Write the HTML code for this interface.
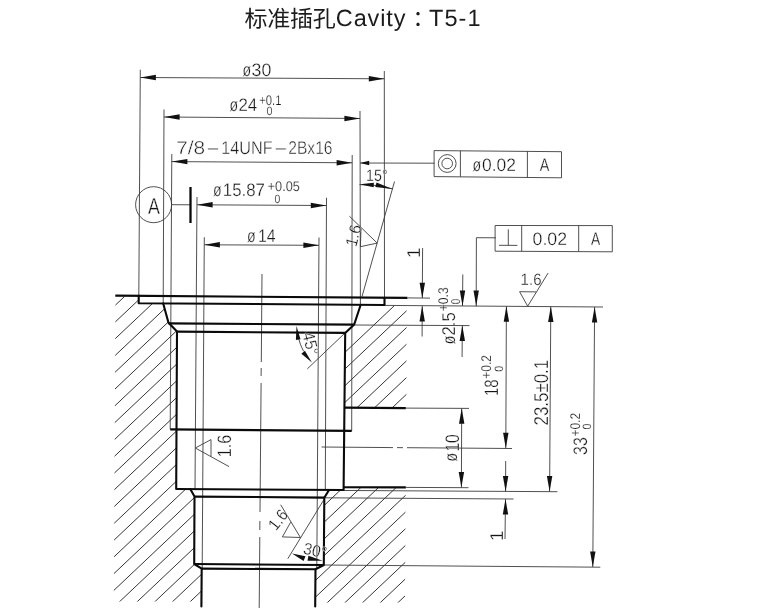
<!DOCTYPE html>
<html lang="zh"><head><meta charset="utf-8"><title>标准插孔Cavity：T5-1</title>
<style>
html,body{margin:0;padding:0;background:#fff;}
body{width:758px;height:611px;overflow:hidden;}
svg{display:block;}
text{font-family:"Liberation Sans","Noto Sans CJK SC",sans-serif;text-rendering:geometricPrecision;}
svg{will-change:transform;opacity:0.999;}
</style></head><body>
<svg width="758" height="611" viewBox="0 0 758 611">
<rect width="758" height="611" fill="#fff"/>
<defs><clipPath id="cl"><polygon points="115.5,296.5 138.7,296.5 138.7,303.2 163.2,303.5 168.5,322.8 177.0,331.5 176.2,489.0 190.4,489.2 194.5,496.6 194.2,564.0 201.7,568.6 201.5,601.5 113.8,601.5"/></clipPath><clipPath id="cr"><polygon points="384.5,305.6 406.6,305.8 406.3,407.8 344.8,407.6 345.2,332.9 354.2,324.5 360.6,305.2"/><polygon points="343.6,487.4 405.6,487.5 405.0,602.5 315.3,602.5 315.5,569.3 323.8,565.0 324.3,497.8 329.0,490.0 343.6,490.0"/></clipPath></defs>
<g clip-path="url(#cl)">
<line x1="105.9" y1="297.5" x2="235.9" y2="174.6" stroke="#2a2a2a" stroke-width="0.95"/>
<line x1="105.9" y1="314.1" x2="235.9" y2="191.3" stroke="#2a2a2a" stroke-width="0.95"/>
<line x1="105.9" y1="330.8" x2="235.9" y2="208.0" stroke="#2a2a2a" stroke-width="0.95"/>
<line x1="105.9" y1="347.5" x2="235.9" y2="224.7" stroke="#2a2a2a" stroke-width="0.95"/>
<line x1="105.9" y1="364.2" x2="235.9" y2="241.4" stroke="#2a2a2a" stroke-width="0.95"/>
<line x1="105.9" y1="380.9" x2="235.9" y2="258.1" stroke="#2a2a2a" stroke-width="0.95"/>
<line x1="105.9" y1="397.6" x2="235.9" y2="274.8" stroke="#2a2a2a" stroke-width="0.95"/>
<line x1="105.9" y1="414.3" x2="235.9" y2="291.4" stroke="#2a2a2a" stroke-width="0.95"/>
<line x1="105.9" y1="431.0" x2="235.9" y2="308.1" stroke="#2a2a2a" stroke-width="0.95"/>
<line x1="105.9" y1="447.7" x2="235.9" y2="324.8" stroke="#2a2a2a" stroke-width="0.95"/>
<line x1="105.9" y1="464.4" x2="235.9" y2="341.5" stroke="#2a2a2a" stroke-width="0.95"/>
<line x1="105.9" y1="481.1" x2="235.9" y2="358.2" stroke="#2a2a2a" stroke-width="0.95"/>
<line x1="105.9" y1="497.7" x2="235.9" y2="374.9" stroke="#2a2a2a" stroke-width="0.95"/>
<line x1="105.9" y1="514.4" x2="235.9" y2="391.6" stroke="#2a2a2a" stroke-width="0.95"/>
<line x1="105.9" y1="531.1" x2="235.9" y2="408.3" stroke="#2a2a2a" stroke-width="0.95"/>
<line x1="105.9" y1="547.8" x2="235.9" y2="425.0" stroke="#2a2a2a" stroke-width="0.95"/>
<line x1="105.9" y1="564.5" x2="235.9" y2="441.6" stroke="#2a2a2a" stroke-width="0.95"/>
<line x1="105.9" y1="581.2" x2="235.9" y2="458.3" stroke="#2a2a2a" stroke-width="0.95"/>
<line x1="105.9" y1="597.9" x2="235.9" y2="475.0" stroke="#2a2a2a" stroke-width="0.95"/>
<line x1="105.9" y1="614.6" x2="235.9" y2="491.7" stroke="#2a2a2a" stroke-width="0.95"/>
<line x1="105.9" y1="631.3" x2="235.9" y2="508.4" stroke="#2a2a2a" stroke-width="0.95"/>
<line x1="105.9" y1="648.0" x2="235.9" y2="525.1" stroke="#2a2a2a" stroke-width="0.95"/>
<line x1="105.9" y1="664.6" x2="235.9" y2="541.8" stroke="#2a2a2a" stroke-width="0.95"/>
<line x1="105.9" y1="681.3" x2="235.9" y2="558.5" stroke="#2a2a2a" stroke-width="0.95"/>
<line x1="105.9" y1="698.0" x2="235.9" y2="575.2" stroke="#2a2a2a" stroke-width="0.95"/>
<line x1="105.9" y1="714.7" x2="235.9" y2="591.9" stroke="#2a2a2a" stroke-width="0.95"/>
<line x1="105.9" y1="731.4" x2="235.9" y2="608.6" stroke="#2a2a2a" stroke-width="0.95"/>
<line x1="105.9" y1="748.1" x2="235.9" y2="625.2" stroke="#2a2a2a" stroke-width="0.95"/>
<line x1="105.9" y1="764.8" x2="235.9" y2="641.9" stroke="#2a2a2a" stroke-width="0.95"/>
<line x1="105.9" y1="781.5" x2="235.9" y2="658.6" stroke="#2a2a2a" stroke-width="0.95"/>
<line x1="105.9" y1="798.2" x2="235.9" y2="675.3" stroke="#2a2a2a" stroke-width="0.95"/>
</g>
<g clip-path="url(#cr)">
<line x1="411.0" y1="289.9" x2="296.0" y2="398.6" stroke="#2a2a2a" stroke-width="0.95"/>
<line x1="411.0" y1="306.6" x2="296.0" y2="415.2" stroke="#2a2a2a" stroke-width="0.95"/>
<line x1="411.0" y1="323.3" x2="296.0" y2="431.9" stroke="#2a2a2a" stroke-width="0.95"/>
<line x1="411.0" y1="340.0" x2="296.0" y2="448.6" stroke="#2a2a2a" stroke-width="0.95"/>
<line x1="411.0" y1="356.6" x2="296.0" y2="465.3" stroke="#2a2a2a" stroke-width="0.95"/>
<line x1="411.0" y1="373.3" x2="296.0" y2="482.0" stroke="#2a2a2a" stroke-width="0.95"/>
<line x1="411.0" y1="390.0" x2="296.0" y2="498.7" stroke="#2a2a2a" stroke-width="0.95"/>
<line x1="411.0" y1="406.7" x2="296.0" y2="515.4" stroke="#2a2a2a" stroke-width="0.95"/>
<line x1="411.0" y1="423.4" x2="296.0" y2="532.1" stroke="#2a2a2a" stroke-width="0.95"/>
<line x1="411.0" y1="440.1" x2="296.0" y2="548.8" stroke="#2a2a2a" stroke-width="0.95"/>
<line x1="411.0" y1="456.8" x2="296.0" y2="565.5" stroke="#2a2a2a" stroke-width="0.95"/>
<line x1="411.0" y1="473.5" x2="296.0" y2="582.2" stroke="#2a2a2a" stroke-width="0.95"/>
<line x1="411.0" y1="490.2" x2="296.0" y2="598.8" stroke="#2a2a2a" stroke-width="0.95"/>
<line x1="411.0" y1="506.9" x2="296.0" y2="615.5" stroke="#2a2a2a" stroke-width="0.95"/>
<line x1="411.0" y1="523.5" x2="296.0" y2="632.2" stroke="#2a2a2a" stroke-width="0.95"/>
<line x1="411.0" y1="540.2" x2="296.0" y2="648.9" stroke="#2a2a2a" stroke-width="0.95"/>
<line x1="411.0" y1="556.9" x2="296.0" y2="665.6" stroke="#2a2a2a" stroke-width="0.95"/>
<line x1="411.0" y1="573.6" x2="296.0" y2="682.3" stroke="#2a2a2a" stroke-width="0.95"/>
<line x1="411.0" y1="590.3" x2="296.0" y2="699.0" stroke="#2a2a2a" stroke-width="0.95"/>
<line x1="411.0" y1="607.0" x2="296.0" y2="715.7" stroke="#2a2a2a" stroke-width="0.95"/>
<line x1="411.0" y1="623.7" x2="296.0" y2="732.4" stroke="#2a2a2a" stroke-width="0.95"/>
<line x1="411.0" y1="640.4" x2="296.0" y2="749.0" stroke="#2a2a2a" stroke-width="0.95"/>
<line x1="411.0" y1="657.1" x2="296.0" y2="765.7" stroke="#2a2a2a" stroke-width="0.95"/>
<line x1="411.0" y1="673.8" x2="296.0" y2="782.4" stroke="#2a2a2a" stroke-width="0.95"/>
<line x1="411.0" y1="690.4" x2="296.0" y2="799.1" stroke="#2a2a2a" stroke-width="0.95"/>
<line x1="411.0" y1="707.1" x2="296.0" y2="815.8" stroke="#2a2a2a" stroke-width="0.95"/>
<line x1="411.0" y1="723.8" x2="296.0" y2="832.5" stroke="#2a2a2a" stroke-width="0.95"/>
<line x1="411.0" y1="740.5" x2="296.0" y2="849.2" stroke="#2a2a2a" stroke-width="0.95"/>
<line x1="411.0" y1="757.2" x2="296.0" y2="865.9" stroke="#2a2a2a" stroke-width="0.95"/>
<line x1="411.0" y1="773.9" x2="296.0" y2="882.6" stroke="#2a2a2a" stroke-width="0.95"/>
<line x1="411.0" y1="790.6" x2="296.0" y2="899.3" stroke="#2a2a2a" stroke-width="0.95"/>
<line x1="411.0" y1="807.3" x2="296.0" y2="916.0" stroke="#2a2a2a" stroke-width="0.95"/>
<line x1="411.0" y1="824.0" x2="296.0" y2="932.6" stroke="#2a2a2a" stroke-width="0.95"/>
</g>
<line x1="140.3" y1="69.7" x2="138.8" y2="296.0" stroke="#3c3c3c" stroke-width="0.9"/>
<line x1="384.3" y1="71.0" x2="384.5" y2="297.0" stroke="#3c3c3c" stroke-width="0.9"/>
<line x1="164.0" y1="109.5" x2="163.2" y2="303.5" stroke="#3c3c3c" stroke-width="0.9"/>
<line x1="360.0" y1="111.0" x2="360.4" y2="305.0" stroke="#3c3c3c" stroke-width="0.9"/>
<line x1="171.8" y1="154.0" x2="170.2" y2="429.4" stroke="#3c3c3c" stroke-width="0.9"/>
<line x1="352.2" y1="155.0" x2="351.7" y2="430.9" stroke="#3c3c3c" stroke-width="0.9"/>
<line x1="197.0" y1="197.0" x2="195.0" y2="489.0" stroke="#3c3c3c" stroke-width="0.9"/>
<line x1="326.5" y1="197.7" x2="325.3" y2="490.0" stroke="#3c3c3c" stroke-width="0.9"/>
<line x1="204.3" y1="237.2" x2="202.2" y2="568.6" stroke="#3c3c3c" stroke-width="0.9"/>
<line x1="319.0" y1="237.5" x2="316.8" y2="569.0" stroke="#3c3c3c" stroke-width="0.9"/>
<line x1="140.3" y1="77.5" x2="384.4" y2="78.8" stroke="#3c3c3c" stroke-width="0.9"/>
<polygon points="140.4,77.5 155.9,74.8 155.9,80.2" fill="#111"/>
<polygon points="384.3,78.8 368.8,81.5 368.8,76.1" fill="#111"/>
<line x1="164.0" y1="117.0" x2="360.0" y2="118.5" stroke="#3c3c3c" stroke-width="0.9"/>
<polygon points="164.1,117.0 179.6,114.3 179.6,119.7" fill="#111"/>
<polygon points="359.9,118.5 344.4,121.2 344.4,115.8" fill="#111"/>
<line x1="171.8" y1="161.6" x2="352.2" y2="162.8" stroke="#3c3c3c" stroke-width="0.9"/>
<polygon points="171.9,161.6 187.4,158.9 187.4,164.3" fill="#111"/>
<polygon points="352.1,162.8 336.6,165.5 336.6,160.1" fill="#111"/>
<line x1="360.0" y1="163.0" x2="434.5" y2="163.2" stroke="#3c3c3c" stroke-width="0.9"/>
<polygon points="360.2,163.0 369.2,160.8 369.2,165.2" fill="#111"/>
<line x1="197.0" y1="204.8" x2="326.4" y2="205.5" stroke="#3c3c3c" stroke-width="0.9"/>
<polygon points="197.1,204.8 212.6,202.1 212.6,207.5" fill="#111"/>
<polygon points="326.3,205.5 310.8,208.2 310.8,202.8" fill="#111"/>
<line x1="204.3" y1="244.8" x2="319.0" y2="245.3" stroke="#3c3c3c" stroke-width="0.9"/>
<polygon points="204.4,244.8 219.9,242.1 219.9,247.5" fill="#111"/>
<polygon points="318.9,245.3 303.4,248.0 303.4,242.6" fill="#111"/>
<circle cx="153.6" cy="204.7" r="18" fill="none" stroke="#3c3c3c" stroke-width="0.9"/>
<line x1="171.6" y1="204.7" x2="190.4" y2="204.8" stroke="#3c3c3c" stroke-width="0.9"/>
<line x1="190.5" y1="187.0" x2="190.5" y2="223.0" stroke="#0a0a0a" stroke-width="2.3"/>
<line x1="262.0" y1="274.0" x2="261.3" y2="362.0" stroke="#3c3c3c" stroke-width="0.9"/>
<line x1="261.2" y1="368.0" x2="261.1" y2="376.0" stroke="#3c3c3c" stroke-width="0.9"/>
<line x1="261.1" y1="383.0" x2="260.0" y2="512.0" stroke="#3c3c3c" stroke-width="0.9"/>
<line x1="259.9" y1="521.0" x2="259.8" y2="530.0" stroke="#3c3c3c" stroke-width="0.9"/>
<line x1="259.8" y1="537.0" x2="259.2" y2="608.0" stroke="#3c3c3c" stroke-width="0.9"/>
<line x1="394.5" y1="181.5" x2="362.0" y2="296.6" stroke="#3c3c3c" stroke-width="0.9"/>
<path d="M359.5,184.6 A112.0,112.0 0 0 1 392.9,188.9" fill="none" stroke="#3c3c3c" stroke-width="0.9"/>
<polygon points="359.8,184.3 373.9,182.7 373.7,187.3" fill="#111"/>
<polygon points="392.4,188.9 375.3,187.1 376.5,182.5" fill="#111"/>
<polyline points="349.7,216.5 377.2,243.1 360.4,246.7 361.0,229.0" fill="none" stroke="#3c3c3c" stroke-width="0.9" stroke-linejoin="round" stroke-linecap="round"/>
<line x1="407.4" y1="297.9" x2="430.0" y2="298.1" stroke="#3c3c3c" stroke-width="0.9"/>
<line x1="384.5" y1="305.4" x2="603.0" y2="307.0" stroke="#3c3c3c" stroke-width="0.9"/>
<line x1="354.5" y1="325.0" x2="469.5" y2="325.6" stroke="#3c3c3c" stroke-width="0.9"/>
<line x1="405.8" y1="408.1" x2="469.0" y2="408.4" stroke="#3c3c3c" stroke-width="0.9"/>
<line x1="405.8" y1="487.4" x2="468.5" y2="487.7" stroke="#3c3c3c" stroke-width="0.9"/>
<line x1="321.6" y1="447.0" x2="393.0" y2="447.6" stroke="#3c3c3c" stroke-width="0.9"/>
<line x1="397.0" y1="447.6" x2="403.0" y2="447.7" stroke="#3c3c3c" stroke-width="0.9"/>
<line x1="407.0" y1="447.7" x2="512.0" y2="448.5" stroke="#3c3c3c" stroke-width="0.9"/>
<line x1="330.0" y1="490.4" x2="557.4" y2="491.7" stroke="#3c3c3c" stroke-width="0.9"/>
<line x1="324.3" y1="497.8" x2="513.5" y2="499.0" stroke="#3c3c3c" stroke-width="0.9"/>
<line x1="323.8" y1="565.0" x2="600.3" y2="567.2" stroke="#3c3c3c" stroke-width="0.9"/>
<line x1="422.6" y1="248.0" x2="422.3" y2="298.0" stroke="#3c3c3c" stroke-width="0.9"/>
<polygon points="422.3,298.2 419.6,282.7 425.0,282.7" fill="#111"/>
<line x1="422.2" y1="306.0" x2="422.1" y2="336.5" stroke="#3c3c3c" stroke-width="0.9"/>
<polygon points="422.2,305.9 424.9,321.4 419.5,321.4" fill="#111"/>
<line x1="462.8" y1="274.5" x2="462.5" y2="305.9" stroke="#3c3c3c" stroke-width="0.9"/>
<polygon points="462.5,305.9 459.8,290.4 465.2,290.4" fill="#111"/>
<line x1="462.3" y1="325.5" x2="462.1" y2="357.0" stroke="#3c3c3c" stroke-width="0.9"/>
<polygon points="462.3,325.6 465.0,341.1 459.6,341.1" fill="#111"/>
<polyline points="495.5,237.8 476.4,237.7 476.2,306.0" fill="none" stroke="#3c3c3c" stroke-width="0.9" stroke-linejoin="round" stroke-linecap="round"/>
<polygon points="476.2,306.0 473.5,290.5 478.9,290.5" fill="#111"/>
<line x1="461.7" y1="408.2" x2="461.4" y2="487.5" stroke="#3c3c3c" stroke-width="0.9"/>
<polygon points="461.7,408.3 464.4,423.8 459.0,423.8" fill="#111"/>
<polygon points="461.4,487.5 458.7,472.0 464.1,472.0" fill="#111"/>
<line x1="506.4" y1="306.3" x2="505.8" y2="448.3" stroke="#3c3c3c" stroke-width="0.9"/>
<polygon points="506.4,306.3 509.1,321.8 503.7,321.8" fill="#111"/>
<polygon points="505.8,448.2 503.1,432.7 508.5,432.7" fill="#111"/>
<line x1="505.7" y1="461.0" x2="505.6" y2="491.5" stroke="#3c3c3c" stroke-width="0.9"/>
<polygon points="505.6,491.5 502.9,476.0 508.3,476.0" fill="#111"/>
<line x1="505.5" y1="499.0" x2="505.0" y2="539.0" stroke="#3c3c3c" stroke-width="0.9"/>
<polygon points="505.5,499.0 508.2,514.5 502.8,514.5" fill="#111"/>
<line x1="550.8" y1="306.6" x2="549.6" y2="491.7" stroke="#3c3c3c" stroke-width="0.9"/>
<polygon points="550.8,306.6 553.5,322.1 548.1,322.1" fill="#111"/>
<polygon points="549.6,491.6 546.9,476.1 552.3,476.1" fill="#111"/>
<line x1="594.6" y1="307.0" x2="592.8" y2="567.0" stroke="#3c3c3c" stroke-width="0.9"/>
<polygon points="594.6,307.0 597.3,322.5 591.9,322.5" fill="#111"/>
<polygon points="592.8,567.1 590.1,551.6 595.5,551.6" fill="#111"/>
<polyline points="547.9,273.4 527.7,306.2 519.6,291.7 535.7,291.9" fill="none" stroke="#3c3c3c" stroke-width="0.9" stroke-linejoin="round" stroke-linecap="round"/>
<polygon points="434.5,150.6 561.5,151.7 561.5,177.8 434.5,176.6" fill="none" stroke="#3c3c3c" stroke-width="0.9" stroke-linejoin="round" stroke-linecap="round"/>
<line x1="460.4" y1="150.8" x2="460.4" y2="176.8" stroke="#3c3c3c" stroke-width="0.9"/>
<line x1="527.4" y1="151.4" x2="527.4" y2="177.5" stroke="#3c3c3c" stroke-width="0.9"/>
<circle cx="447.2" cy="163.5" r="8.9" fill="none" stroke="#3c3c3c" stroke-width="0.9"/>
<circle cx="447.2" cy="163.5" r="5.3" fill="none" stroke="#3c3c3c" stroke-width="0.9"/>
<polygon points="495.5,225.5 612.3,225.6 612.3,251.8 495.5,251.2" fill="none" stroke="#3c3c3c" stroke-width="0.9" stroke-linejoin="round" stroke-linecap="round"/>
<line x1="521.7" y1="225.5" x2="521.7" y2="251.3" stroke="#3c3c3c" stroke-width="0.9"/>
<line x1="578.7" y1="225.6" x2="578.7" y2="251.6" stroke="#3c3c3c" stroke-width="0.9"/>
<line x1="508.3" y1="229.4" x2="508.3" y2="245.3" stroke="#3c3c3c" stroke-width="0.9"/>
<line x1="499.0" y1="245.3" x2="517.4" y2="245.4" stroke="#3c3c3c" stroke-width="0.9"/>
<polyline points="228.7,466.4 195.3,448.0 211.0,439.6 211.0,456.1" fill="none" stroke="#3c3c3c" stroke-width="0.9" stroke-linejoin="round" stroke-linecap="round"/>
<line x1="345.2" y1="332.8" x2="307.3" y2="368.9" stroke="#3c3c3c" stroke-width="0.9"/>
<path d="M298.5,338.2 A57.0,57.0 0 0 0 303.5,351.2" fill="none" stroke="#3c3c3c" stroke-width="0.9"/>
<polygon points="296.5,325.9 300.5,339.3 295.9,339.9" fill="#111"/>
<polygon points="311.9,362.6 301.4,353.7 304.9,350.7" fill="#111"/>
<line x1="324.0" y1="499.5" x2="287.8" y2="558.7" stroke="#3c3c3c" stroke-width="0.9"/>
<polygon points="292.0,553.6 305.5,556.3 303.6,561.0" fill="#111"/>
<polygon points="322.7,560.8 307.5,560.7 308.4,555.7" fill="#111"/>
<polyline points="280.9,505.1 300.4,537.5 282.4,536.9 290.5,522.5" fill="none" stroke="#3c3c3c" stroke-width="0.9" stroke-linejoin="round" stroke-linecap="round"/>
<line x1="115.3" y1="295.6" x2="407.4" y2="297.9" stroke="#0a0a0a" stroke-width="2.1"/>
<polyline points="138.7,295.8 138.7,303.2 384.5,305.0 384.5,297.7" fill="none" stroke="#0a0a0a" stroke-width="2.1" stroke-linejoin="round" stroke-linecap="round"/>
<polyline points="163.2,303.5 168.5,322.8 177.0,331.5 176.2,489.0" fill="none" stroke="#0a0a0a" stroke-width="2.1" stroke-linejoin="round" stroke-linecap="round"/>
<polyline points="360.6,305.0 354.2,324.5 345.2,332.9 343.6,490.0" fill="none" stroke="#0a0a0a" stroke-width="2.1" stroke-linejoin="round" stroke-linecap="round"/>
<line x1="168.5" y1="323.4" x2="354.2" y2="324.6" stroke="#0a0a0a" stroke-width="2.1"/>
<line x1="177.0" y1="331.6" x2="345.2" y2="332.9" stroke="#0a0a0a" stroke-width="2.1"/>
<line x1="170.2" y1="429.4" x2="351.7" y2="430.9" stroke="#0a0a0a" stroke-width="2.1"/>
<line x1="176.2" y1="489.0" x2="343.6" y2="490.0" stroke="#0a0a0a" stroke-width="2.1"/>
<polyline points="190.4,489.2 194.5,496.6 194.2,564.0 201.7,568.6 201.4,606.5" fill="none" stroke="#0a0a0a" stroke-width="2.1" stroke-linejoin="round" stroke-linecap="round"/>
<polyline points="329.0,490.0 324.3,497.8 323.8,565.0 315.5,569.3 315.2,606.5" fill="none" stroke="#0a0a0a" stroke-width="2.1" stroke-linejoin="round" stroke-linecap="round"/>
<line x1="194.5" y1="496.6" x2="324.3" y2="497.6" stroke="#0a0a0a" stroke-width="2.1"/>
<line x1="194.2" y1="564.0" x2="323.8" y2="565.0" stroke="#0a0a0a" stroke-width="2.1"/>
<line x1="201.7" y1="568.6" x2="315.5" y2="569.3" stroke="#0a0a0a" stroke-width="2.1"/>
<line x1="344.8" y1="407.6" x2="405.8" y2="408.1" stroke="#0a0a0a" stroke-width="2.1"/>
<line x1="343.6" y1="487.2" x2="405.8" y2="487.4" stroke="#0a0a0a" stroke-width="2.1"/>
<text y="26.4" font-size="22" fill="#1c1c1c"><tspan x="244.6" dy="0.8" font-size="23" textLength="91.2" lengthAdjust="spacing">标准插孔</tspan><tspan x="335.8" dy="-0.8" font-size="23.5" textLength="69.6" lengthAdjust="spacing">Cavity</tspan><tspan x="412.5">：</tspan><tspan x="429.0" font-size="23.5" textLength="51.6" lengthAdjust="spacing">T5-1</tspan></text>
<text x="242.6" y="75.9" font-size="18" text-anchor="start" fill="#151515" textLength="8.6" lengthAdjust="spacingAndGlyphs" stroke="#fff" stroke-width="0.29">ø</text>
<text x="251.6" y="75.9" font-size="18" text-anchor="start" fill="#151515" textLength="19.8" lengthAdjust="spacingAndGlyphs" stroke="#fff" stroke-width="0.29">30</text>
<text x="229.6" y="110.6" font-size="18" text-anchor="start" fill="#151515" textLength="8.6" lengthAdjust="spacingAndGlyphs" stroke="#fff" stroke-width="0.29">ø</text>
<text x="238.4" y="110.6" font-size="18" text-anchor="start" fill="#151515" textLength="18.8" lengthAdjust="spacingAndGlyphs" stroke="#fff" stroke-width="0.29">24</text>
<text x="259.3" y="105.4" font-size="14" text-anchor="start" fill="#151515" textLength="22.2" lengthAdjust="spacingAndGlyphs" stroke="#fff" stroke-width="0.22">+0.1</text>
<text x="266.4" y="115.3" font-size="12" text-anchor="start" fill="#151515" textLength="6.0" lengthAdjust="spacingAndGlyphs" stroke="#fff" stroke-width="0.19">0</text>
<text y="153.9" font-size="18.5" fill="#1e1e1e" stroke="#fff" stroke-width="0.4"><tspan x="176.2" textLength="29" lengthAdjust="spacingAndGlyphs">7/8</tspan><tspan x="205.5" textLength="15" lengthAdjust="spacingAndGlyphs">-</tspan><tspan x="221.3" textLength="51.3" lengthAdjust="spacingAndGlyphs">14UNF</tspan><tspan x="273.2" textLength="15" lengthAdjust="spacingAndGlyphs">-</tspan><tspan x="288.3" textLength="44.2" lengthAdjust="spacingAndGlyphs">2Bx16</tspan></text>
<text x="213.1" y="196.0" font-size="18" text-anchor="start" fill="#151515" textLength="8.6" lengthAdjust="spacingAndGlyphs" stroke="#fff" stroke-width="0.29">ø</text>
<text x="222.8" y="196.0" font-size="18" text-anchor="start" fill="#151515" textLength="42.0" lengthAdjust="spacingAndGlyphs" stroke="#fff" stroke-width="0.29">15.87</text>
<text x="267.6" y="191.2" font-size="14" text-anchor="start" fill="#151515" textLength="32.3" lengthAdjust="spacingAndGlyphs" stroke="#fff" stroke-width="0.22">+0.05</text>
<text x="274.6" y="202.5" font-size="12" text-anchor="start" fill="#151515" textLength="5.8" lengthAdjust="spacingAndGlyphs" stroke="#fff" stroke-width="0.19">0</text>
<text x="247.0" y="241.8" font-size="18" text-anchor="start" fill="#151515" textLength="8.6" lengthAdjust="spacingAndGlyphs" stroke="#fff" stroke-width="0.29">ø</text>
<text x="258.0" y="241.8" font-size="18" text-anchor="start" fill="#151515" textLength="17.6" lengthAdjust="spacingAndGlyphs" stroke="#fff" stroke-width="0.29">14</text>
<text x="366.1" y="181.3" font-size="16.5" text-anchor="start" fill="#151515" textLength="21.5" lengthAdjust="spacingAndGlyphs" stroke="#fff" stroke-width="0.26">15°</text>
<text x="148.1" y="213.6" font-size="23" text-anchor="start" fill="#151515" textLength="11.9" lengthAdjust="spacingAndGlyphs" stroke="#fff" stroke-width="0.37">A</text>
<text x="472.6" y="170.9" font-size="18" text-anchor="start" fill="#151515" textLength="8.6" lengthAdjust="spacingAndGlyphs" stroke="#fff" stroke-width="0.29">ø</text>
<text x="482.0" y="170.9" font-size="18" text-anchor="start" fill="#151515" textLength="34.0" lengthAdjust="spacingAndGlyphs" stroke="#fff" stroke-width="0.29">0.02</text>
<text x="539.8" y="171.1" font-size="18" text-anchor="start" fill="#151515" textLength="9.6" lengthAdjust="spacingAndGlyphs" stroke="#fff" stroke-width="0.29">A</text>
<text x="532.6" y="245.2" font-size="18" text-anchor="start" fill="#151515" textLength="34.5" lengthAdjust="spacingAndGlyphs" stroke="#fff" stroke-width="0.29">0.02</text>
<text x="591.0" y="245.3" font-size="18" text-anchor="start" fill="#151515" textLength="9.2" lengthAdjust="spacingAndGlyphs" stroke="#fff" stroke-width="0.29">A</text>
<text x="520.6" y="285.1" font-size="16.5" text-anchor="start" fill="#151515" textLength="20.9" lengthAdjust="spacingAndGlyphs" stroke="#fff" stroke-width="0.26">1.6</text>
<text x="356.2" y="247.5" font-size="16.5" text-anchor="start" fill="#151515" textLength="22.0" lengthAdjust="spacingAndGlyphs" transform="rotate(-76 356.2 247.5)" stroke="#fff" stroke-width="0.26">1.6</text>
<text x="231.0" y="457.2" font-size="19.5" text-anchor="start" fill="#151515" textLength="22.5" lengthAdjust="spacingAndGlyphs" transform="rotate(-90 231.0 457.2)" stroke="#fff" stroke-width="0.31">1.6</text>
<text x="276.0" y="531.5" font-size="16.5" text-anchor="start" fill="#151515" textLength="21.0" lengthAdjust="spacingAndGlyphs" transform="rotate(-52 276.0 531.5)" stroke="#fff" stroke-width="0.26">1.6</text>
<text x="302.2" y="333.6" font-size="17" text-anchor="start" fill="#151515" textLength="23.5" lengthAdjust="spacingAndGlyphs" transform="rotate(76 302.2 333.6)" stroke="#fff" stroke-width="0.27">45°</text>
<text x="302.5" y="553.6" font-size="16.5" text-anchor="start" fill="#151515" textLength="23.5" lengthAdjust="spacingAndGlyphs" transform="rotate(12 302.5 553.6)" stroke="#fff" stroke-width="0.26">30°</text>
<text x="419.6" y="258.0" font-size="18.5" text-anchor="start" fill="#151515" transform="rotate(-90 419.6 258.0)" stroke="#fff" stroke-width="0.30">1</text>
<text x="455.0" y="344.2" font-size="18" text-anchor="start" fill="#151515" textLength="8.6" lengthAdjust="spacingAndGlyphs" transform="rotate(-90 455.0 344.2)" stroke="#fff" stroke-width="0.29">ø</text>
<text x="455.4" y="335.4" font-size="18.5" text-anchor="start" fill="#151515" textLength="23.0" lengthAdjust="spacingAndGlyphs" transform="rotate(-90 455.4 335.4)" stroke="#fff" stroke-width="0.30">2.5</text>
<text x="448.3" y="311.2" font-size="14" text-anchor="start" fill="#151515" textLength="23.8" lengthAdjust="spacingAndGlyphs" transform="rotate(-90 448.3 311.2)" stroke="#fff" stroke-width="0.22">+0.3</text>
<text x="460.0" y="304.2" font-size="13" text-anchor="start" fill="#151515" textLength="5.6" lengthAdjust="spacingAndGlyphs" transform="rotate(-90 460.0 304.2)" stroke="#fff" stroke-width="0.21">0</text>
<text x="457.3" y="461.6" font-size="18" text-anchor="start" fill="#151515" textLength="8.6" lengthAdjust="spacingAndGlyphs" transform="rotate(-90 457.3 461.6)" stroke="#fff" stroke-width="0.29">ø</text>
<text x="459.0" y="451.6" font-size="19.5" text-anchor="start" fill="#151515" textLength="17.4" lengthAdjust="spacingAndGlyphs" transform="rotate(-90 459.0 451.6)" stroke="#fff" stroke-width="0.31">10</text>
<text x="498.2" y="396.0" font-size="19.5" text-anchor="start" fill="#151515" textLength="16.7" lengthAdjust="spacingAndGlyphs" transform="rotate(-90 498.2 396.0)" stroke="#fff" stroke-width="0.31">18</text>
<text x="491.3" y="378.7" font-size="14" text-anchor="start" fill="#151515" textLength="23.6" lengthAdjust="spacingAndGlyphs" transform="rotate(-90 491.3 378.7)" stroke="#fff" stroke-width="0.22">+0.2</text>
<text x="502.6" y="371.7" font-size="12" text-anchor="start" fill="#151515" textLength="6.0" lengthAdjust="spacingAndGlyphs" transform="rotate(-90 502.6 371.7)" stroke="#fff" stroke-width="0.19">0</text>
<text x="547.6" y="425.5" font-size="20" text-anchor="start" fill="#151515" textLength="65.7" lengthAdjust="spacingAndGlyphs" transform="rotate(-90 547.6 425.5)" stroke="#fff" stroke-width="0.32">23.5±0.1</text>
<text x="586.9" y="454.9" font-size="19.5" text-anchor="start" fill="#151515" textLength="17.7" lengthAdjust="spacingAndGlyphs" transform="rotate(-90 586.9 454.9)" stroke="#fff" stroke-width="0.31">33</text>
<text x="579.7" y="436.5" font-size="14" text-anchor="start" fill="#151515" textLength="23.6" lengthAdjust="spacingAndGlyphs" transform="rotate(-90 579.7 436.5)" stroke="#fff" stroke-width="0.22">+0.2</text>
<text x="590.8" y="429.5" font-size="12" text-anchor="start" fill="#151515" textLength="6.0" lengthAdjust="spacingAndGlyphs" transform="rotate(-90 590.8 429.5)" stroke="#fff" stroke-width="0.19">0</text>
<text x="502.5" y="541.0" font-size="18.5" text-anchor="start" fill="#151515" transform="rotate(-90 502.5 541.0)" stroke="#fff" stroke-width="0.30">1</text>
</svg>
</body></html>
